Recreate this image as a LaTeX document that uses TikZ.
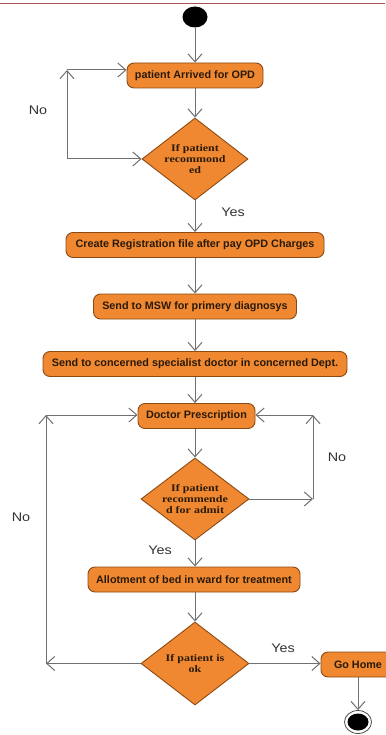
\documentclass[tikz,border=0pt]{standalone}
\usepackage{fontspec}
\setmainfont{Liberation Sans}
\newfontfamily\serifb{Liberation Serif}
\usetikzlibrary{arrows.meta,shapes.geometric,calc}
\definecolor{orfill}{HTML}{F08832}
\definecolor{orline}{HTML}{8B4A14}
\definecolor{ln}{HTML}{707070}
\definecolor{topline}{HTML}{B05050}
\definecolor{txt}{HTML}{2A1A08}
\begin{document}
\begin{tikzpicture}[x=1pt,y=-1pt,
  box/.style={draw=orline, fill=orfill, rounded corners=7pt, line width=0.9pt,
    minimum height=25pt, inner sep=0pt, text=txt,
    font=\fontsize{10.8}{12}\selectfont\bfseries},
  dec/.style={draw=orline, fill=orfill, diamond, line width=0.9pt, inner sep=0pt},
  dectext/.style={align=center, text=txt, inner sep=0pt, xscale=1.2,
    font=\serifb\fontsize{10}{11}\selectfont\bfseries},
  arr/.style={draw=ln, line width=1pt, -{Straight Barb[length=8pt,width=14pt]}},
  lbl/.style={text=black!80, inner sep=0pt, xscale=1.15, font=\fontsize{12.5}{15}\selectfont}
]
\useasboundingbox (0,0) rectangle (385,735);
\draw[topline, line width=1pt] (0,3.3) -- (385,3.3);

\node[ellipse, fill=black, minimum width=25pt, minimum height=21pt, inner sep=0pt] (start) at (195,17) {};
\node[box, minimum width=136pt] (b1) at (195,75.5) {patient Arrived for OPD};
\node[dec, minimum width=106pt, minimum height=82pt] (d1) at (195,159) {};
\node[dectext] (t1) at (d1.center) {If patient\\recommond\\ed};
\node[box, minimum width=258pt] (b2) at (195,245) {Create Registration file after pay OPD Charges};
\node[box, minimum width=203pt] (b3) at (195,306.5) {Send to MSW for primery diagnosys};
\node[box, minimum width=304pt] (b4) at (195,364) {Send to concerned specialist doctor in concerned Dept.};
\node[box, minimum width=117pt] (b5) at (196.5,416) {Doctor Prescription};
\node[dec, minimum width=108pt, minimum height=82pt] (d2) at (195,499) {};
\node[dectext] (t2) at (d2.center) {If patient\\recommende\\d for admit};
\node[box, minimum width=212pt] (b6) at (194,579.5) {Allotment of bed in ward for treatment};
\node[dec, minimum width=108pt, minimum height=83pt] (d3) at (195,663.5) {};
\node[dectext] (t3) at (d3.center) {If patient is\\ok};
\node[box, minimum width=74pt] (go) at (358,664.5) {Go Home};
\node[ellipse, draw=black!70, line width=0.8pt, fill=white, minimum width=27pt, minimum height=23pt, inner sep=0pt] (end) at (358,722) {};
\node[ellipse, fill=black, minimum width=21pt, minimum height=17pt, inner sep=0pt] (endin) at (end.center) {};

% main flow
\draw[arr] (start) -- (b1);
\draw[arr] (b1) -- (d1.north);
\draw[arr] (d1.south) -- (b2);
\draw[arr] (b2) -- (b3);
\draw[arr] (b3) -- (b4);
\draw[arr] (b4) -- (b4 |- b5.north);
\draw[arr] (b5.south -| d2.north) -- (d2.north);
\draw[arr] (d2.south) -- (d2.south |- b6.north);
\draw[arr] (b6.south -| d3.north) -- (d3.north);
\draw[arr] (d3.east) -- (go.west |- d3.east);
\draw[arr] (go.south -| end.north) -- (end.north);

% loop 1
\coordinate (c0) at (67,159);
\coordinate (c1) at (67,70);
\draw[arr] (c0) -- (d1.west);
\draw[arr] (c0) -- (c1);
\draw[arr] (c1) -- (b1.west |- c1);

% loop 2 (right)
\coordinate (r0) at (313,499);
\coordinate (r1) at (313,415);
\draw[arr] (d2.east) -- (r0);
\draw[arr] (r0) -- (r1);
\draw[arr] (r1) -- (b5.east |- r1);

% loop 3 (left)
\coordinate (l0) at (46,663.5);
\coordinate (l1) at (46,415);
\draw[arr] (d3.west) -- (l0);
\draw[arr] (l0) -- (l1);
\draw[arr] (l1) -- (b5.west |- l1);

% labels
\node[lbl] (n1) at (38,110) {No};
\node[lbl] (y1) at (233,212) {Yes};
\node[lbl] (n2) at (337,457) {No};
\node[lbl] (n3) at (21,517) {No};
\node[lbl] (y2) at (160,550) {Yes};
\node[lbl] (y3) at (283,648) {Yes};
\end{tikzpicture}
\end{document}
